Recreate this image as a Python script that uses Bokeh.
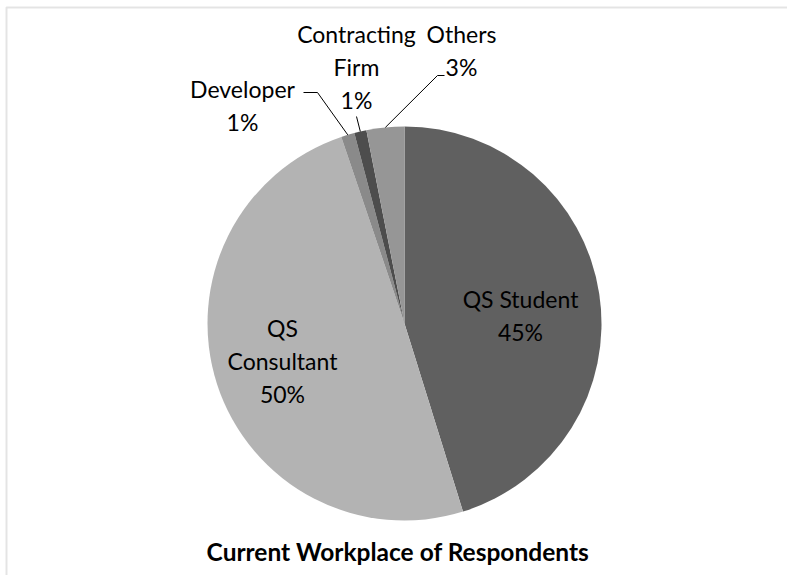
import math
from bokeh.plotting import figure
from bokeh.models import ColumnDataSource, Range1d, BoxAnnotation
from bokeh.core.properties import value
from bokeh.embed import file_html
from bokeh.resources import INLINE

# ---- data ----
categories = ["QS Student", "QS Consultant", "Developer", "Contracting Firm", "Others"]
shares = [45.2, 49.6, 1.1, 1.0, 3.1]
pct_labels = ["45%", "50%", "1%", "1%", "3%"]
name_lines = [["QS Student"], ["QS", "Consultant"], ["Developer"], ["Contracting", "Firm"], ["Others"]]
title_text = "Current Workplace of Respondents"

# ---- style / layout ----
colors = ["#606060", "#b3b3b3", "#8a8a8a", "#4d4d4d", "#969696"]
R = 197
FONT = "Lato"
FS = "23px"
LINE_H = 33
BASE_FIX = 9
# label block: (center x, first baseline y) in px relative to pie centre (y up)
label_pos = [(116, 16), (-122, -13), (-162, 226), (-48, 281), (57, 281)]
# leader polylines from label side (endpoint on the pie edge is added from the slice angle)
leaders = {2: [(-101, 231), (-87, 231)], 3: [(-48, 207)], 4: [(40, 248), (33, 248)]}

W, H = 787, 575
p = figure(width=W, height=H, output_backend="svg", toolbar_location=None,
           x_axis_type=None, y_axis_type=None,
           x_range=Range1d(-404, 383), y_range=Range1d(-252, 323),
           min_border=0, background_fill_color="white", border_fill_color="white")
p.grid.visible = False
p.outline_line_color = None

# chart-area border (only its top and left edges fall inside the picture)
p.add_layout(BoxAnnotation(left=-398, top=316, right=900, bottom=-900,
                           fill_color=None, line_color="#a6a6a6", line_width=2))

total = sum(shares)
starts, ends, mids = [], [], []
c = 0.0
for s in shares:
    c0 = c / total
    c += s
    c1 = c / total
    starts.append(math.pi / 2 - 2 * math.pi * c0)
    ends.append(math.pi / 2 - 2 * math.pi * c1)
    mids.append(math.pi / 2 - math.pi * (c0 + c1))

src = ColumnDataSource(dict(cat=categories, share=shares, start=starts, end=ends, color=colors))
p.wedge(x=0, y=0, radius=R, start_angle="start", end_angle="end", direction="clock",
        fill_color="color", line_color=None, source=src)

# leader lines
xs, ys = [], []
for i, pts in leaders.items():
    ex, ey = R * math.cos(mids[i]), R * math.sin(mids[i])
    xs.append([pt[0] for pt in pts] + [ex])
    ys.append([pt[1] for pt in pts] + [ey])
p.multi_line(xs=xs, ys=ys, line_color="black", line_width=1)

# labels
tx, ty, tt = [], [], []
for i, lines in enumerate(name_lines):
    bx, by = label_pos[i]
    for k, t in enumerate(lines + [pct_labels[i]]):
        tx.append(bx)
        ty.append(by - k * LINE_H + BASE_FIX)
        tt.append(t)
p.text(x=tx, y=ty, text=tt, text_align="center", text_baseline="alphabetic",
       text_font=value(FONT), text_font_size=FS, text_color="black")

p.text(x=[-6.5], y=[-237 + BASE_FIX], text=[title_text], text_align="center", text_baseline="alphabetic",
       text_font=value(FONT), text_font_size="24.5px", text_font_style="bold", text_color="black")

open("out.html", "w").write(file_html(p, INLINE))
